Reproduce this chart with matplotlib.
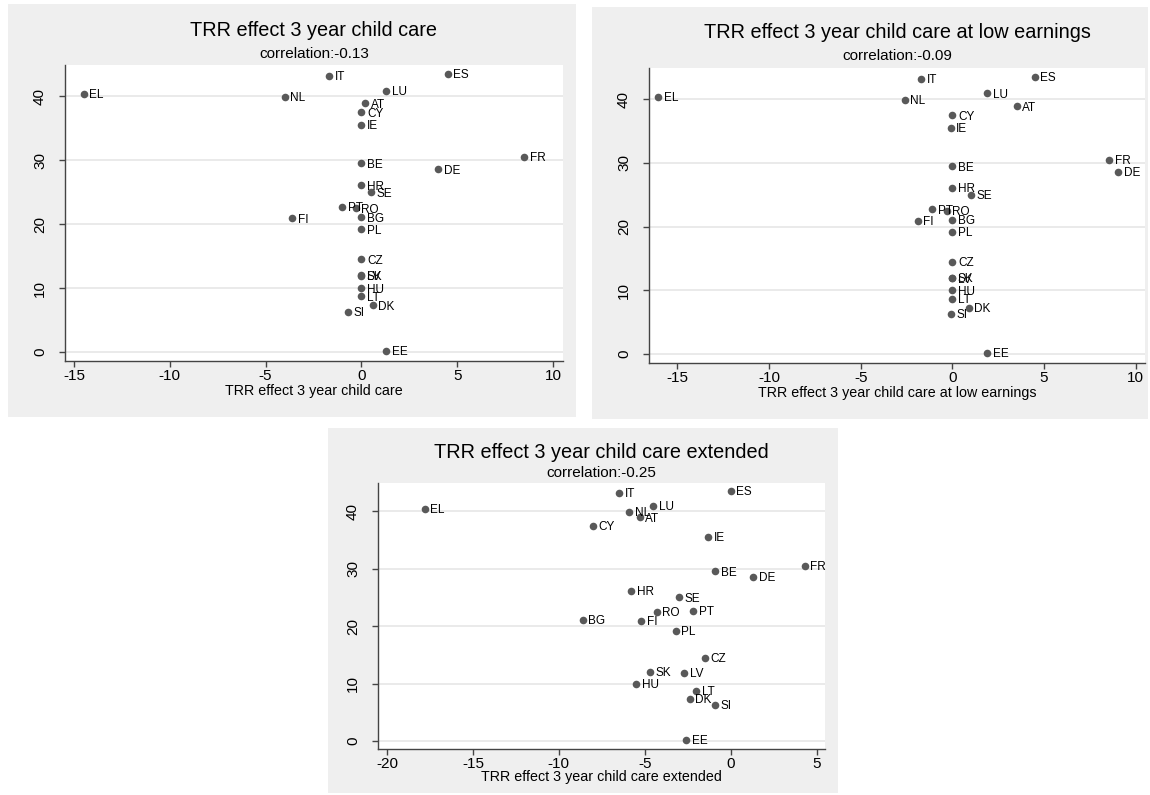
import matplotlib
matplotlib.use("Agg")
import matplotlib.pyplot as plt
from matplotlib.patches import Rectangle

plt.rcParams['font.family'] = ['Liberation Sans', 'DejaVu Sans']
plt.rcParams['axes.unicode_minus'] = False

# data
countries = ["IT", "ES", "EL", "NL", "LU", "AT", "CY", "IE", "FR", "BE", "DE", "HR", "SE",
             "PT", "RO", "BG", "FI", "PL", "CZ", "SK", "LV", "HU", "LT", "DK", "SI", "EE"]
y_vals = [43.2, 43.5, 40.4, 39.9, 40.9, 38.9, 37.5, 35.5, 30.5, 29.5, 28.6, 26.1, 25.0,
          22.7, 22.5, 21.1, 20.9, 19.2, 14.5, 12.0, 11.9, 10.0, 8.7, 7.3, 6.3, 0.2]
x_care = [-1.7, 4.5, -14.5, -4.0, 1.3, 0.2, 0.0, 0.0, 8.5, 0.0, 4.0, 0.0, 0.5,
          -1.0, -0.3, 0.0, -3.6, 0.0, 0.0, 0.0, 0.0, 0.0, 0.0, 0.6, -0.7, 1.3]
x_low = [-1.7, 4.5, -16.05, -2.6, 1.9, 3.5, 0.0, -0.1, 8.55, 0.0, 9.05, 0.0, 1.0,
         -1.1, -0.3, 0.0, -1.9, 0.0, 0.0, 0.0, 0.0, 0.0, 0.0, 0.9, -0.1, 1.9]
x_ext = [-6.5, 0.0, -17.8, -5.9, -4.5, -5.3, -8.0, -1.3, 4.3, -0.9, 1.3, -5.8, -3.0,
         -2.2, -4.3, -8.6, -5.2, -3.2, -1.5, -4.7, -2.7, -5.5, -2.0, -2.4, -0.9, -2.6]

titles = ["TRR effect 3 year child care",
          "TRR effect 3 year child care at low earnings",
          "TRR effect 3 year child care extended"]
correlations = ["-0.13", "-0.09", "-0.25"]
x_ticks = [[-15, -10, -5, 0, 5, 10], [-15, -10, -5, 0, 5, 10], [-20, -15, -10, -5, 0, 5]]
y_ticks = [0, 10, 20, 30, 40]

W, H = 1150, 795
fig = plt.figure(figsize=(W / 100, H / 100), dpi=100)
fig.patch.set_facecolor("white")


def fx(x):
    return x / W


def fy(y):
    return 1 - y / H


# panel boxes (pixels: left, top, right, bottom) and plot areas
panels = [(8, 4, 576, 417), (592, 7, 1148, 419), (328, 428, 838, 793)]
areas = [(65, 65, 563, 361), (649, 68, 1145, 363), (378, 483, 825, 749)]
xlims = [(-15.47, 10.52), (-16.55, 10.51), (-20.52, 5.48)]
ylim = (-1.4, 44.9)
title_y = [(31, 54), (33, 56.5), (452, 473)]
xlabel_y = [391, 393, 777]
series = [x_care, x_low, x_ext]

for i in range(3):
    l, t, r, b = panels[i]
    fig.patches.append(Rectangle((fx(l), fy(b)), fx(r - l), (b - t) / H,
                                 transform=fig.transFigure, facecolor="#efefef",
                                 edgecolor="none", zorder=-5))
    al, at, ar, ab = areas[i]
    ax = fig.add_axes([fx(al), fy(ab), fx(ar - al), (ab - at) / H])
    ax.set_facecolor("white")
    ax.set_xlim(*xlims[i])
    ax.set_ylim(*ylim)
    ax.set_xticks(x_ticks[i])
    ax.set_yticks(y_ticks)
    ax.grid(axis="y", color="#e8e8e8", linewidth=1.3)
    ax.set_axisbelow(True)
    for s in ["top", "right"]:
        ax.spines[s].set_visible(False)
    for s in ["left", "bottom"]:
        ax.spines[s].set_color("#444444")
        ax.spines[s].set_linewidth(1.0)
    ax.tick_params(axis="both", length=4, width=1.0, color="#444444",
                   labelsize=11, labelcolor="black")
    ax.tick_params(axis="x", pad=2)
    ax.tick_params(axis="y", pad=14)
    for lab in ax.get_yticklabels():
        lab.set_rotation(90)
        lab.set_va("center")
        lab.set_ha("center")

    xs = series[i]
    ax.scatter(xs, y_vals, s=30, color="#595959", zorder=3, linewidths=0)
    for c, xv, yv in zip(countries, xs, y_vals):
        ax.annotate(c, (xv, yv), xytext=(4, -1), textcoords="offset points",
                    fontsize=8.5, va="center", ha="left", color="black", zorder=4)

    cx = fx((al + ar) / 2)
    fig.text(cx, fy(title_y[i][0]), titles[i], fontsize=14.3, ha="center", va="center")
    fig.text(cx, fy(title_y[i][1]), "correlation:" + correlations[i], fontsize=11,
             ha="center", va="center")
    fig.text(cx, fy(xlabel_y[i]), titles[i], fontsize=10.3, ha="center", va="center")

fig.savefig("out.png", dpi=100)
